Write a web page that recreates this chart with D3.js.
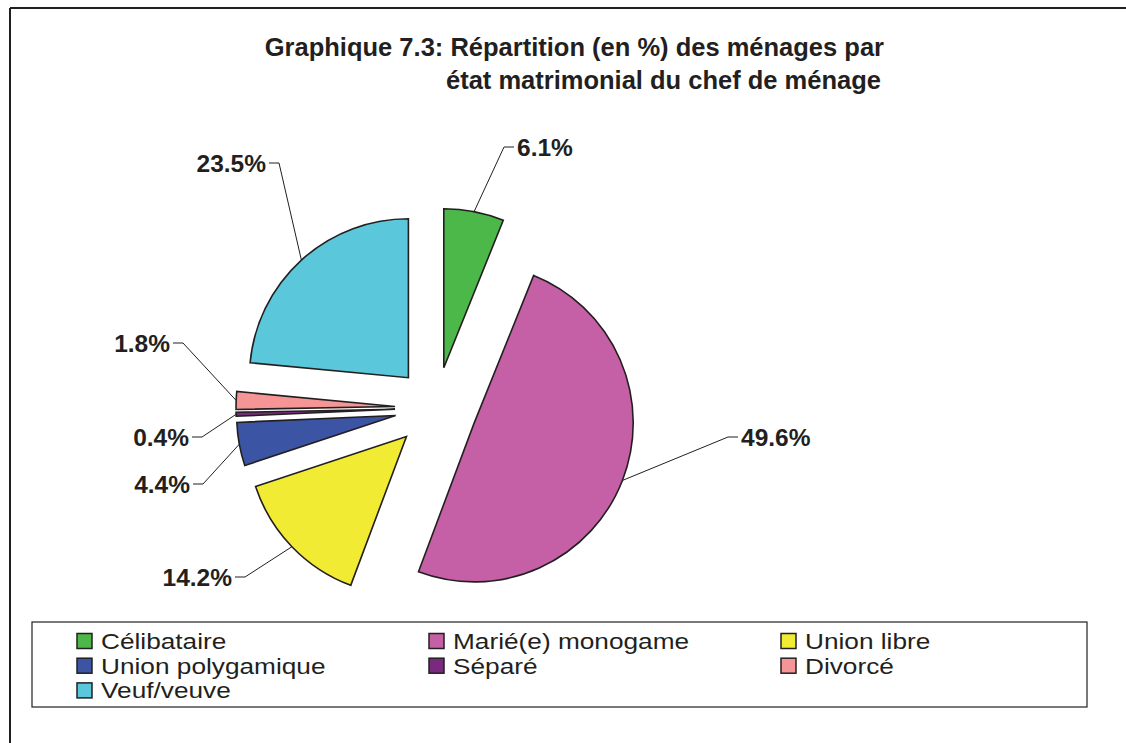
<!DOCTYPE html>
<html>
<head>
<meta charset="utf-8">
<script src="https://cdn.jsdelivr.net/npm/d3@7"></script>
<style>
    body { margin: 0; background: #fff; }
    svg { display: block; font-family: "Liberation Sans", Arial, Helvetica, sans-serif; }
    .title { font-weight: bold; font-size: 25.5px; fill: #231f20; }
    .pct { font-weight: bold; font-size: 24.5px; fill: #231f20; }
    .legend-text { font-size: 21.5px; fill: #231f20; }
</style>
</head>
<body>
<svg id="chart" width="1126" height="743"></svg>
<script>
// Data
const categories = ['Célibataire', 'Marié(e) monogame', 'Union libre', 'Union polygamique', 'Séparé', 'Divorcé', 'Veuf/veuve'];
const values = [6.1, 49.6, 14.2, 4.4, 0.4, 1.8, 23.5];
const labels = ['6.1%', '49.6%', '14.2%', '4.4%', '0.4%', '1.8%', '23.5%'];
const titleLines = ['Graphique 7.3: Répartition (en %) des ménages par', 'état matrimonial du chef de ménage'];

// Styling / layout
const colors = ['#4cb84a', '#c55fa6', '#f2eb33', '#3b54a4', '#7a2a7e', '#f59596', '#5ac8da'];
const center = { x: 436, y: 408 };
const radius = 159;
const explode = 41;
// elbow point of each label leader, and which side the text sits on
const labelElbows = [
    { x: 504, y: 147, side: 1 },
    { x: 728, y: 437, side: 1 },
    { x: 245, y: 577, side: -1 },
    { x: 203, y: 484, side: -1 },
    { x: 202, y: 437, side: -1 },
    { x: 183, y: 343, side: -1 },
    { x: 279, y: 163, side: -1 }
];

const svg = d3.select('#chart');
const ink = '#231f20';

// Frame (only left and top edges are visible)
svg.append('line').attr('x1', 10).attr('y1', 8).attr('x2', 10).attr('y2', 743)
    .attr('stroke', ink).attr('stroke-width', 2);
svg.append('line').attr('x1', 10).attr('y1', 8).attr('x2', 1126).attr('y2', 8)
    .attr('stroke', ink).attr('stroke-width', 2);

// Title (right aligned)
svg.selectAll('.title')
    .data(titleLines)
    .join('text')
        .attr('class', 'title')
        .attr('text-anchor', 'end')
        .attr('x', (d, i) => i === 0 ? 884 : 881)
        .attr('y', (d, i) => 56 + i * 33)
        .text(d => d);

// Pie
const pie = d3.pie().sort(null).startAngle(0).endAngle(2 * Math.PI);
const arcs = pie(values);
const arc = d3.arc().innerRadius(0).outerRadius(radius);
const mid = d => (d.startAngle + d.endAngle) / 2;

const chart = svg.append('g')
    .attr('transform', `translate(${center.x}, ${center.y})`);

chart.selectAll('.slice')
    .data(arcs)
    .join('path')
        .attr('class', 'slice')
        .attr('d', arc)
        .attr('transform', d => `translate(${Math.sin(mid(d)) * explode}, ${-Math.cos(mid(d)) * explode})`)
        .attr('fill', (d, i) => colors[i])
        .attr('stroke', ink)
        .attr('stroke-width', 1.6)
        .attr('stroke-linejoin', 'miter');

// Leader lines from the arc's midpoint to the label
arcs.forEach((d, i) => {
    const a = mid(d);
    const sx = center.x + Math.sin(a) * (explode + radius);
    const sy = center.y - Math.cos(a) * (explode + radius);
    const e = labelElbows[i];
    const ex = e.x + e.side * 10;
    svg.append('polyline')
        .attr('points', `${sx},${sy} ${e.x},${e.y} ${ex},${e.y}`)
        .attr('fill', 'none')
        .attr('stroke', ink)
        .attr('stroke-width', 1);
    svg.append('text')
        .attr('class', 'pct')
        .attr('x', ex + e.side * 3)
        .attr('y', e.y + 9)
        .attr('text-anchor', e.side > 0 ? 'start' : 'end')
        .text(labels[i]);
});

// Legend
svg.append('rect')
    .attr('x', 32).attr('y', 622).attr('width', 1055).attr('height', 85)
    .attr('fill', 'none').attr('stroke', ink).attr('stroke-width', 1.2);

const legend = svg.selectAll('.legend-item')
    .data(categories)
    .join('g')
        .attr('class', 'legend-item')
        .attr('transform', (d, i) => `translate(${77 + (i % 3) * 352}, ${641 + Math.floor(i / 3) * 24.7})`);

legend.append('rect')
    .attr('x', 0).attr('y', -7.5).attr('width', 15).attr('height', 15)
    .attr('fill', (d, i) => colors[i])
    .attr('stroke', ink).attr('stroke-width', 1.5);

// the legend type is wide: stretch it horizontally
legend.append('text')
    .attr('class', 'legend-text')
    .attr('transform', 'translate(24, 8) scale(1.22, 1.06)')
    .text(d => d);
</script>
</body>
</html>
